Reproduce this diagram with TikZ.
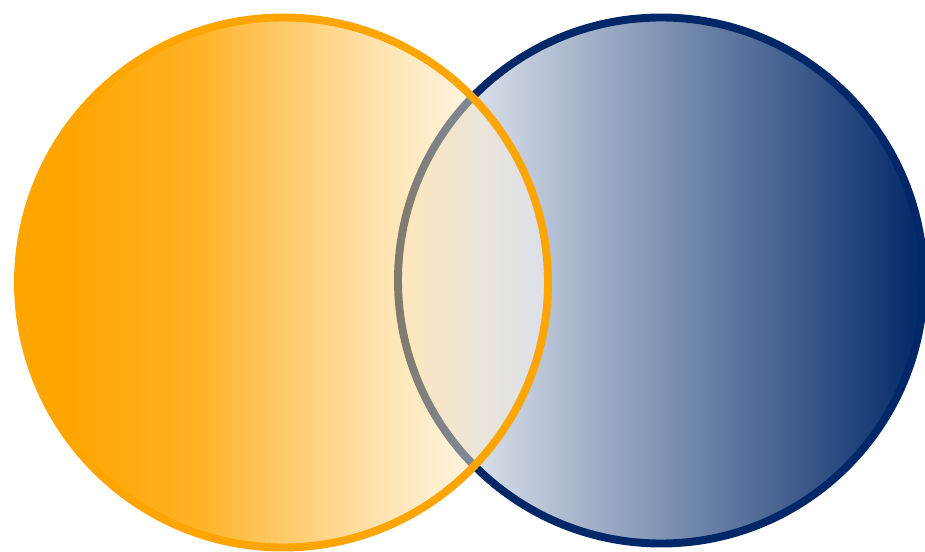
\documentclass[tikz,border=0pt]{standalone}
\usetikzlibrary{fadings}
\definecolor{navy}{RGB}{0,40,104}
\definecolor{amber}{RGB}{255,165,0}
\pgfdeclarehorizontalshading{amberwash}{100bp}{color(0bp)=(amber); color(30bp)=(amber);
  color(52.5bp)=(amber!72!white); color(60.6bp)=(amber!55!white);
  color(68.6bp)=(amber!20!white); color(75bp)=(white); color(100bp)=(white)}
\pgfdeclarehorizontalshading{washmask}{100bp}{color(0bp)=(pgftransparent!0); color(42bp)=(pgftransparent!0);
  color(60.6bp)=(pgftransparent!50); color(100bp)=(pgftransparent!50)}
\pgfdeclarefading{washfade}{\pgfuseshading{washmask}}
\begin{document}
\begin{tikzpicture}[ring/.style={circle, inner sep=0pt, line width=4.5pt}]
  \useasboundingbox (0,0) rectangle (18.5,11.02);
  \node[ring, minimum size=10.52cm, draw=navy, left color=white, right color=navy] (right) at (13.22,5.41) {};
  \node[ring, minimum size=10.6cm, shade, shading=amberwash, path fading=washfade] (left) at (5.66,5.37) {};
  \draw[amber, line width=4.5pt] (left.center) circle[radius=5.3];
\end{tikzpicture}
\end{document}
